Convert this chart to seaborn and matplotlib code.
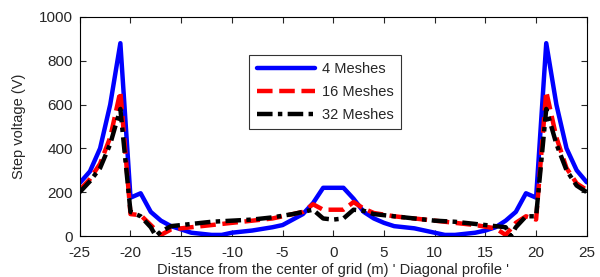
import seaborn as sns
import pandas as pd
import matplotlib.pyplot as plt

# distance along diagonal (m)
x4 = [-25, -24, -23, -22, -21, -20, -19, -18, -17, -16, -15, -14, -12, -11, -10, -8, -6, -5, -4, -3, -2, -1,
      1, 2, 3, 4, 5, 6, 8, 10, 11, 12, 14, 15, 16, 17, 18, 19, 20, 21, 22, 23, 24, 25]
v4 = [242, 295, 400, 600, 880, 175, 195, 110, 70, 45, 30, 15, 5, 5, 15, 25, 40, 50, 75, 100, 150, 220,
      220, 170, 110, 80, 60, 45, 35, 15, 5, 5, 15, 25, 40, 70, 110, 195, 175, 880, 600, 400, 300, 245]

x16 = [-25, -24, -23, -22, -21, -20, -19, -18, -17, -16, -15, -14, -12, -10, -8, -6, -4, -3, -2, -1,
       1, 2, 3, 4, 6, 8, 10, 12, 14, 16, 17, 18, 19, 20, 21, 22, 23, 24, 25]
v16 = [210, 260, 330, 450, 660, 100, 95, 50, 5, 30, 35, 40, 50, 60, 70, 80, 100, 110, 145, 120,
       120, 155, 125, 105, 90, 80, 70, 60, 50, 35, 5, 60, 90, 75, 660, 450, 310, 240, 210]

x32 = [-25, -24, -23, -22, -21, -20, -19, -18, -17.5, -17, -16, -15, -14, -12, -10, -8, -6, -4, -3, -2, -1,
       0, 1, 2, 3, 4, 6, 8, 10, 12, 14, 16, 17, 17.5, 18, 19, 20, 21, 22, 23, 24, 25]
v32 = [200, 250, 310, 420, 580, 110, 90, 40, 0, 20, 45, 50, 55, 65, 70, 75, 85, 100, 110, 120, 80,
       75, 80, 120, 115, 100, 90, 80, 70, 65, 55, 45, 40, 0, 40, 90, 90, 580, 420, 300, 230, 200]

df = pd.concat([
    pd.DataFrame({"x": x4, "v": v4, "s": "4 Meshes"}),
    pd.DataFrame({"x": x16, "v": v16, "s": "16 Meshes"}),
    pd.DataFrame({"x": x32, "v": v32, "s": "32 Meshes"}),
])

sns.set_theme(style="ticks")
plt.rcParams['font.family'] = ['Liberation Sans', 'DejaVu Sans']
plt.rcParams['axes.unicode_minus'] = False

fig, ax = plt.subplots(figsize=(6, 2.77), dpi=100)
fig.subplots_adjust(left=0.133, right=0.978, top=0.939, bottom=0.148)

styles = {"4 Meshes": ("#0000ff", "-"), "16 Meshes": ("#ff0000", (0, (3.5, 1.5))),
          "32 Meshes": ("#000000", (0, (3.5, 1.2, 1, 1.2)))}
for name, (col, ls) in styles.items():
    sub = df[df["s"] == name]
    sns.lineplot(data=sub, x="x", y="v", ax=ax, color=col, linestyle=ls, linewidth=3.2, label=name,
                 sort=False)

ax.set_xlim(-25, 25)
ax.set_ylim(0, 1000)
ax.set_xticks(range(-25, 26, 5))
ax.set_yticks(range(0, 1001, 200))
ax.tick_params(direction="in", top=True, right=True, labelsize=11, length=4, width=0.8)
ax.tick_params(axis="x", pad=7)
ax.tick_params(axis="y", pad=5)
for sp in ax.spines.values():
    sp.set_linewidth(0.8)
    sp.set_color("black")
ax.set_xlabel("Distance from the center of grid (m) ' Diagonal profile '", fontsize=10.5, labelpad=2)
ax.set_ylabel("Step voltage (V)", fontsize=10.5, labelpad=9)

leg = ax.legend(loc="upper left", bbox_to_anchor=(0.32, 0.86), fontsize=10.5, frameon=True,
                fancybox=False, edgecolor="black", handlelength=4.0, handletextpad=0.5,
                borderpad=0.5, labelspacing=0.6)
leg.get_frame().set_linewidth(0.8)

fig.savefig("out.png", dpi=100)
